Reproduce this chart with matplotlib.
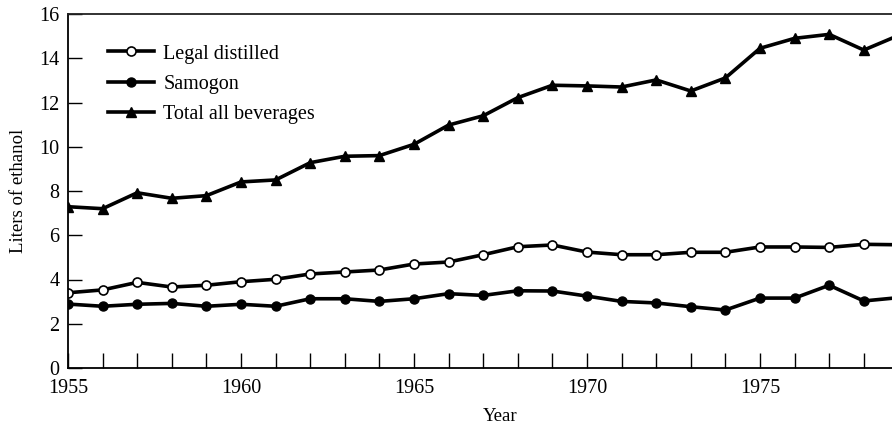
import matplotlib
matplotlib.use("Agg")
import matplotlib.pyplot as plt
from matplotlib.ticker import MultipleLocator, FixedLocator

years = list(range(1955, 1980))
legal_distilled = [3.40, 3.53, 3.87, 3.66, 3.74, 3.90, 4.01, 4.25, 4.34, 4.43,
                   4.70, 4.79, 5.12, 5.48, 5.56, 5.24, 5.12, 5.12, 5.23, 5.23,
                   5.47, 5.47, 5.45, 5.59, 5.57]
samogon = [2.89, 2.79, 2.88, 2.92, 2.79, 2.88, 2.79, 3.13, 3.13, 3.01,
           3.13, 3.36, 3.28, 3.49, 3.48, 3.25, 3.01, 2.94, 2.77, 2.62,
           3.16, 3.16, 3.74, 3.03, 3.18]
total_all = [7.29, 7.20, 7.92, 7.67, 7.79, 8.41, 8.50, 9.28, 9.57, 9.60,
             10.11, 10.98, 11.40, 12.22, 12.78, 12.75, 12.70, 13.02, 12.52, 13.11,
             14.45, 14.90, 15.08, 14.37, 15.03]
series_labels = ["Legal distilled", "Samogon", "Total all beverages"]
year_labels = [1955, 1960, 1965, 1970, 1975]
y_ticks = [0, 2, 4, 6, 8, 10, 12, 14, 16]

plt.rcParams["font.family"] = ["Liberation Serif", "DejaVu Serif"]

W, H = 892, 425
fig = plt.figure(figsize=(W / 100, H / 100), dpi=100)
left_px, right_px, top_px, bottom_px = 68, 933, 14, 368
ax = fig.add_axes([left_px / W, (H - bottom_px) / H,
                   (right_px - left_px) / W, (bottom_px - top_px) / H])

line_kw = dict(color="black", linewidth=2.6, clip_on=True)
ax.plot(years, legal_distilled, marker="o", markersize=6.5,
        markerfacecolor="white", markeredgecolor="black", markeredgewidth=1.2,
        label=series_labels[0], **line_kw)
ax.plot(years, samogon, marker="o", markersize=6.5,
        markerfacecolor="black", markeredgecolor="black",
        label=series_labels[1], **line_kw)
ax.plot(years, total_all, marker="^", markersize=7,
        markerfacecolor="black", markeredgecolor="black",
        label=series_labels[2], **line_kw)

ax.set_xlim(1955, 1980)
ax.set_ylim(0, 16)
ax.xaxis.set_major_locator(FixedLocator(year_labels))
ax.xaxis.set_minor_locator(MultipleLocator(1))
ax.yaxis.set_major_locator(FixedLocator(y_ticks))

ax.tick_params(axis="x", which="both", direction="in", length=10.5, width=1.0,
               labelsize=14.5, pad=8, colors="black")
ax.tick_params(axis="y", direction="in", length=10, width=1.0,
               labelsize=14.5, pad=6)

for side in ["left", "bottom", "top"]:
    ax.spines[side].set_linewidth(1.3)
    ax.spines[side].set_color("black")
ax.spines["top"].set_color("#222222")
ax.spines["right"].set_visible(False)

ax.set_xlabel("Year", fontsize=13.5, labelpad=7)
ax.set_ylabel("Liters of ethanol", fontsize=13.5, labelpad=9)

leg = ax.legend(loc="upper left", bbox_to_anchor=(40 / 865, 0.914),
                frameon=False, fontsize=14.5, handlelength=2.3,
                handletextpad=0.45, labelspacing=0.55, borderpad=0,
                borderaxespad=0)

fig.savefig("out.png", dpi=100)
